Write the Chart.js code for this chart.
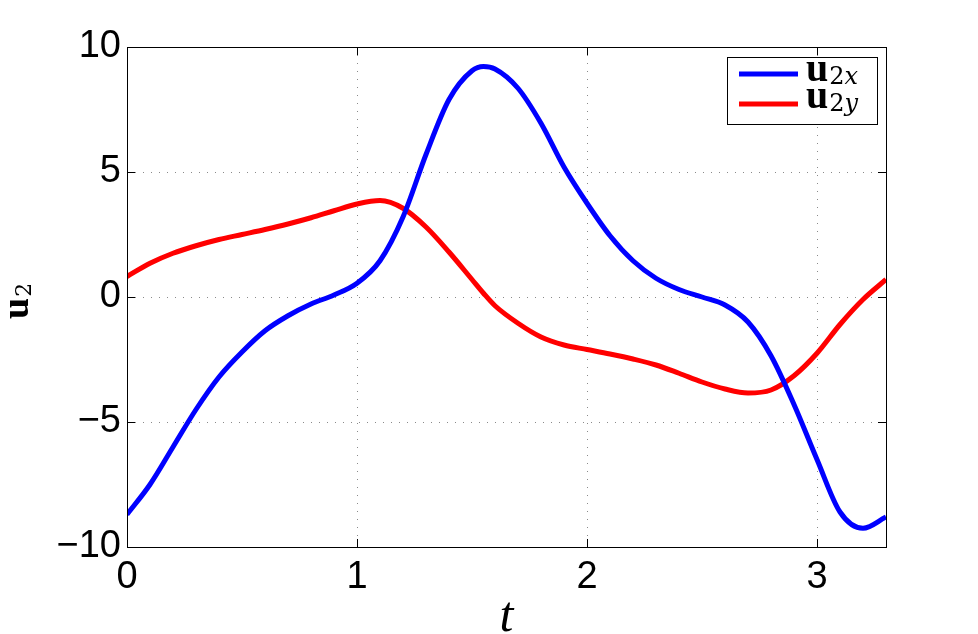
<!DOCTYPE html>
<html>
<head>
<meta charset="utf-8">
<script src="https://cdn.jsdelivr.net/npm/chart.js@4.4.1/dist/chart.umd.min.js"></script>
<style>
  html, body { margin: 0; padding: 0; background: #fff; }
  #wrap { width: 978px; height: 634px; }
</style>
</head>
<body>
<div id="wrap"><canvas id="uChart"></canvas></div>
<script>
// time samples and the two velocity components
const tValues = [0, 0.1, 0.2, 0.3, 0.4, 0.5, 0.6, 0.7, 0.8, 0.9, 1.0, 1.1, 1.2, 1.3, 1.4, 1.5, 1.55, 1.6, 1.7, 1.8, 1.9, 2.0, 2.1, 2.2, 2.3, 2.4, 2.5, 2.6, 2.7, 2.8, 2.9, 3.0, 3.1, 3.2, 3.3];
const u2x = [-8.7, -7.5, -6.0, -4.5, -3.2, -2.2, -1.35, -0.75, -0.28, 0.08, 0.55, 1.45, 3.2, 5.7, 7.9, 9.05, 9.22, 9.12, 8.35, 6.95, 5.2, 3.75, 2.45, 1.45, 0.75, 0.3, 0.0, -0.32, -1.0, -2.35, -4.3, -6.5, -8.6, -9.25, -8.8];
const u2y = [0.82, 1.35, 1.75, 2.05, 2.3, 2.5, 2.7, 2.92, 3.17, 3.45, 3.72, 3.86, 3.55, 2.8, 1.8, 0.7, 0.15, -0.35, -1.05, -1.6, -1.92, -2.1, -2.28, -2.48, -2.72, -3.05, -3.4, -3.68, -3.84, -3.72, -3.15, -2.25, -1.1, -0.1, 0.7];

const xTicks = [0, 1, 2, 3];
const yTicks = [-10, -5, 0, 5, 10];

const serif = '"Liberation Serif", "DejaVu Serif", serif';
const subSerif = '"DejaVu Serif", "Liberation Serif", serif';

function pts(ys) {
  return tValues.map((t, i) => ({ x: t, y: ys[i] }));
}

// draws "u" in bold with a subscript, like the LaTeX labels
function drawSub(ctx, x, y, main, sub, size, subSize) {
  ctx.font = 'bold ' + size + 'px ' + serif;
  ctx.fillText(main, x, y);
  let cx = x + ctx.measureText(main).width + 1;
  ctx.font = subSize + 'px ' + subSerif;
  ctx.fillText(sub[0], cx, y + 3);
  cx += ctx.measureText(sub[0]).width;
  if (sub.length > 1) {
    ctx.font = 'italic ' + subSize + 'px ' + subSerif;
    ctx.fillText(sub.slice(1), cx, y + 3);
  }
}

const decor = {
  id: 'decor',
  beforeDraw(chart) {
    const ctx = chart.ctx;
    ctx.save();
    ctx.fillStyle = '#fff';
    ctx.fillRect(0, 0, chart.width, chart.height);
    ctx.restore();
  },
  afterDraw(chart) {
    const ctx = chart.ctx;
    const a = chart.chartArea;
    const xs = chart.scales.x, ys = chart.scales.y;
    ctx.save();

    // axes box + inward tick marks
    ctx.strokeStyle = '#000';
    ctx.lineWidth = 1;
    ctx.strokeRect(Math.round(a.left) + 0.5, Math.round(a.top) + 0.5, Math.round(a.right - a.left), Math.round(a.bottom - a.top));
    ctx.beginPath();
    xTicks.forEach(v => {
      const px = Math.round(xs.getPixelForValue(v)) + 0.5;
      ctx.moveTo(px, a.bottom); ctx.lineTo(px, a.bottom - 8);
      ctx.moveTo(px, a.top); ctx.lineTo(px, a.top + 8);
    });
    yTicks.forEach(v => {
      const py = Math.round(ys.getPixelForValue(v)) + 0.5;
      ctx.moveTo(a.left, py); ctx.lineTo(a.left + 8, py);
      ctx.moveTo(a.right, py); ctx.lineTo(a.right - 8, py);
    });
    ctx.stroke();

    // legend box, top right
    const lx = Math.round(a.right) - 159, ly = Math.round(a.top) + 10;
    ctx.fillStyle = '#fff';
    ctx.fillRect(lx, ly, 150, 67);
    ctx.strokeRect(lx + 0.5, ly + 0.5, 150, 67);
    const items = [
      { color: '#0000ff', sub: '2x', dy: 17, ty: 24 },
      { color: '#ff0000', sub: '2y', dy: 47, ty: 51 }
    ];
    items.forEach(it => {
      ctx.strokeStyle = it.color;
      ctx.lineWidth = 5;
      ctx.beginPath();
      ctx.moveTo(lx + 12, ly + it.dy);
      ctx.lineTo(lx + 71, ly + it.dy);
      ctx.stroke();
      ctx.fillStyle = '#000';
      ctx.textBaseline = 'alphabetic';
      ctx.textAlign = 'left';
      drawSub(ctx, lx + 79, ly + it.ty, 'u', it.sub, 40, 24);
    });

    // y axis title u_2, rotated
    ctx.fillStyle = '#000';
    ctx.textAlign = 'left';
    ctx.textBaseline = 'alphabetic';
    ctx.save();
    ctx.translate(28, (a.top + a.bottom) / 2 + 22);
    ctx.rotate(-Math.PI / 2);
    drawSub(ctx, 0, 0, 'u', '2', 38, 22);
    ctx.restore();

    // x axis title t
    ctx.font = 'italic 50px ' + serif;
    ctx.textAlign = 'center';
    ctx.fillText('t', (a.left + a.right) / 2, 631);
    ctx.restore();
  }
};

Chart.defaults.color = '#000';
Chart.defaults.font.family = '"Liberation Sans", Arial, sans-serif';

const ctx = document.getElementById('uChart').getContext('2d');
const uChart = new Chart(ctx, {
  type: 'line',
  data: {
    datasets: [
      {
        label: 'u2x',
        data: pts(u2x),
        borderColor: '#0000ff',
        borderWidth: 5,
        pointRadius: 0,
        cubicInterpolationMode: 'monotone',
        clip: 0
      },
      {
        label: 'u2y',
        data: pts(u2y),
        borderColor: '#ff0000',
        borderWidth: 5,
        pointRadius: 0,
        cubicInterpolationMode: 'monotone',
        clip: 0
      }
    ]
  },
  options: {
    responsive: true,
    maintainAspectRatio: false,
    animation: false,
    layout: { padding: { left: 0, top: 47, right: 92, bottom: 0 } },
    plugins: {
      legend: { display: false },
      tooltip: { enabled: false }
    },
    scales: {
      x: {
        type: 'linear',
        min: 0,
        max: 3.3,
        afterBuildTicks: s => { s.ticks = xTicks.map(v => ({ value: v })); },
        afterFit: s => { s.height = 87; },
        grid: { color: '#8a8a8a', lineWidth: 1, drawTicks: false },
        border: { display: false, dash: [1, 7] },
        ticks: {
          padding: 8,
          font: { size: 38 },
          maxRotation: 0,
          callback: v => String(v)
        }
      },
      y: {
        type: 'linear',
        min: -10,
        max: 10,
        afterBuildTicks: s => { s.ticks = yTicks.map(v => ({ value: v })); },
        afterFit: s => { s.width = 127; },
        grid: { color: '#8a8a8a', lineWidth: 1, drawTicks: false },
        border: { display: false, dash: [1, 7] },
        ticks: {
          padding: 6,
          font: { size: 38 },
          callback: v => String(v).replace('-', '\u2212')
        }
      }
    }
  },
  plugins: [decor]
});
</script>
</body>
</html>
